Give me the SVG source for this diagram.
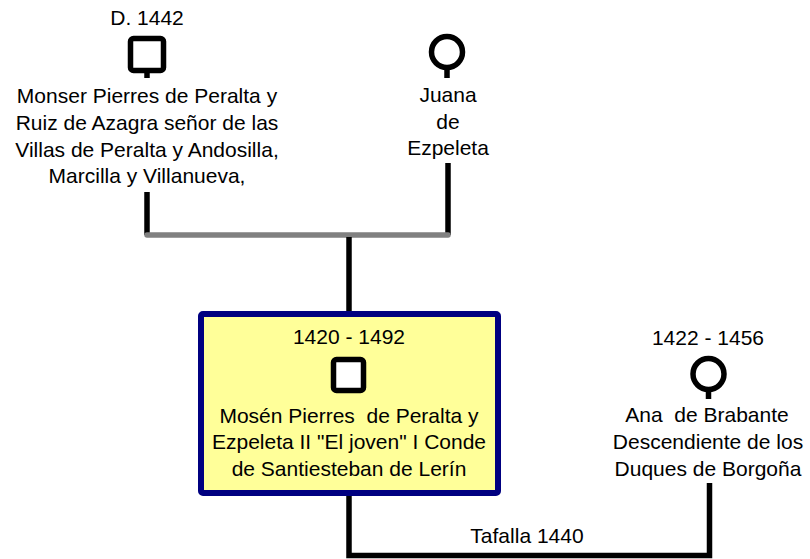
<svg xmlns="http://www.w3.org/2000/svg" width="810" height="559" viewBox="0 0 810 559">
<style>
text{font-family:"Liberation Sans",Arial,sans-serif;font-size:21px;fill:#000;text-anchor:middle;white-space:pre}
.sym{fill:#fff;stroke:#000;stroke-width:5.5}
.ln{stroke:#000;stroke-width:5.5;fill:none}
.gray{stroke:#808080;stroke-width:5.5;fill:none;stroke-linecap:round}
.box{fill:#ffff99;stroke:#000080;stroke-width:6}
</style>
<rect width="810" height="559" fill="#fff"/>
<g id="connectors">
<line class="ln" x1="147" y1="192" x2="147" y2="235"/>
<line class="ln" x1="448" y1="163" x2="448" y2="235"/>
<line class="gray" x1="147" y1="235" x2="448" y2="235"/>
<line class="ln" x1="349" y1="237" x2="349" y2="312"/>
<polyline class="ln" points="349,496 349,555.5 709.5,555.5 709.5,483"/>
<text x="527" y="543">Tafalla 1440</text>
</g>
<g id="node-monser">
<text x="147" y="25">D. 1442</text>
<line class="ln" x1="147" y1="72" x2="147" y2="78"/>
<rect class="sym" x="130.5" y="38.5" width="33" height="32" rx="3"/>
<text x="147" y="103">Monser Pierres de Peralta y</text>
<text x="147" y="130">Ruiz de Azagra señor de las</text>
<text x="147" y="157">Villas de Peralta y Andosilla,</text>
<text x="147" y="183">Marcilla y Villanueva,</text>
</g>
<g id="node-juana">
<line class="ln" x1="447" y1="68" x2="447" y2="78"/>
<circle class="sym" cx="447" cy="52" r="15.5"/>
<text x="448" y="102">Juana</text>
<text x="448" y="129">de</text>
<text x="448" y="155">Ezpeleta</text>
</g>
<g id="node-mosen">
<rect class="box" x="201" y="314" width="297" height="179" rx="2"/>
<text x="349" y="344">1420 - 1492</text>
<rect class="sym" x="333.5" y="359.5" width="30" height="31" rx="3"/>
<text x="349" y="423">Mosén Pierres  de Peralta y</text>
<text x="349" y="449">Ezpeleta II "El joven" I Conde</text>
<text x="349" y="476">de Santiesteban de Lerín</text>
</g>
<g id="node-ana">
<text x="708" y="345">1422 - 1456</text>
<line class="ln" x1="708.5" y1="389" x2="708.5" y2="399"/>
<circle class="sym" cx="708.5" cy="374" r="15.5"/>
<text x="707" y="422">Ana  de Brabante</text>
<text x="708" y="449">Descendiente de los</text>
<text x="708" y="476">Duques de Borgoña</text>
</g>
</svg>
